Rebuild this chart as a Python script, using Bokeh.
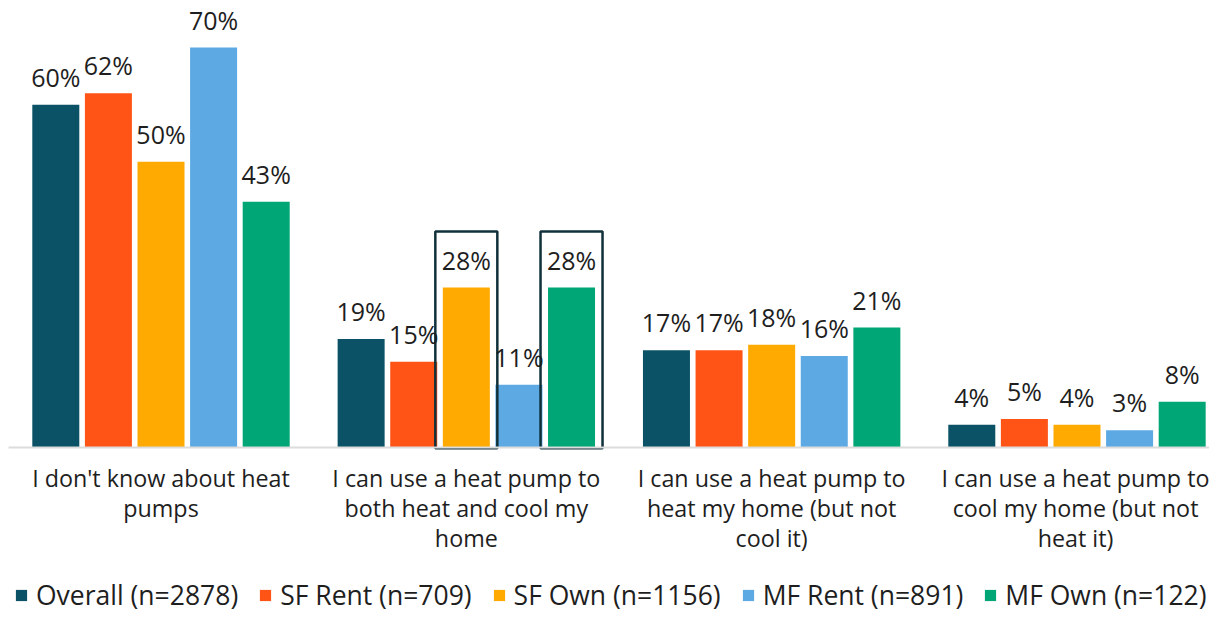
from bokeh.plotting import figure
from bokeh.models import (Range1d, FixedTicker, ColumnDataSource, LabelSet, Legend, LegendItem)
from bokeh.core.properties import value
from bokeh.embed import file_html
from bokeh.resources import INLINE

categories = [
    "I don't know about heat\npumps",
    "I can use a heat pump to\nboth heat and cool my\nhome",
    "I can use a heat pump to\nheat my home (but not\ncool it)",
    "I can use a heat pump to\ncool my home (but not\nheat it)",
]
series = ["Overall (n=2878)", "SF Rent (n=709)", "SF Own (n=1156)", "MF Rent (n=891)", "MF Own (n=122)"]
overall = [60, 19, 17, 4]
sf_rent = [62, 15, 17, 5]
sf_own = [50, 28, 18, 4]
mf_rent = [70, 11, 16, 3]
mf_own = [43, 28, 21, 8]
values = [overall, sf_rent, sf_own, mf_rent, mf_own]
colors = ["#0B5266", "#FF5416", "#FFAA00", "#5DA9E4", "#00A676"]
# highlighted bars: (category index, series index)
highlighted = [(1, 2), (1, 4)]

FONT = "Open Sans"
TXT = "#1e1e1e"
W, H = 1209, 613
PX_PER_CAT = 305.33
PX_PER_PCT = 5.714
BASE = 447  # pixel row of the zero line
X0 = -160.5 / PX_PER_CAT + 0.5

step = 52.6 / PX_PER_CAT
bw = 47.0 / PX_PER_CAT

p = figure(width=W, height=H, output_backend="svg", toolbar_location=None,
           x_range=Range1d(X0, X0 + W / PX_PER_CAT),
           y_range=Range1d(-(H - BASE) / PX_PER_PCT, BASE / PX_PER_PCT),
           min_border_left=0, min_border_right=0, min_border_top=0, min_border_bottom=0)
p.outline_line_color = None
p.background_fill_color = "white"
p.border_fill_color = "white"
p.yaxis.visible = False
p.xgrid.visible = False
p.ygrid.visible = False

centers = [i + 0.5 for i in range(len(categories))]
items = []
for j, (name, vals, col) in enumerate(zip(series, values, colors)):
    xs = [c + (j - 2) * step for c in centers]
    src = ColumnDataSource(dict(x=xs, top=vals, lab=[f"{v}%" for v in vals]))
    r = p.vbar(x="x", top="top", width=bw, source=src, fill_color=col, line_color=None)
    items.append(LegendItem(label=name, renderers=[r]))
    p.add_layout(LabelSet(x="x", y="top", text="lab", source=src, text_align="center",
                          text_baseline="middle", y_offset=28, text_font=value(FONT),
                          text_font_size="25px", text_color=TXT))

# highlight boxes
hx, htop, hbot = [], [], []
for ci, sj in highlighted:
    hx.append(centers[ci] + (sj - 2) * step)
    htop.append(values[sj][ci] + 9.8)
    hbot.append(-0.15)
hw = 62.0 / PX_PER_CAT
p.quad(left=[x - hw / 2 for x in hx], right=[x + hw / 2 for x in hx], top=htop, bottom=hbot,
       fill_color=None, line_color="#10303a", line_width=2.5)

ax = p.xaxis[0]
ax.fixed_location = 0
ax.bounds = (X0 + 8 / PX_PER_CAT, X0 + W / PX_PER_CAT)
ax.ticker = FixedTicker(ticks=centers)
ax.major_label_overrides = {c: lab for c, lab in zip(centers, categories)}
ax.major_tick_line_color = None
ax.minor_tick_line_color = None
ax.axis_line_color = "#dcdcdc"
ax.axis_line_width = 2
ax.major_label_standoff = 8
ax.major_label_text_font = FONT
ax.major_label_text_font_size = "23.3px"
ax.major_label_text_color = TXT
ax.major_label_text_line_height = 0.945

legend = Legend(items=items, orientation="horizontal", location=(14, 0),
                glyph_width=14, glyph_height=14, label_standoff=8, spacing=20,
                padding=0, margin=0, border_line_color=None, background_fill_alpha=0,
                label_text_font=FONT, label_text_font_size="26.5px", label_text_color=TXT,
                label_height=22)
p.add_layout(legend, "center")

open("out.html", "w").write(file_html(p, INLINE))
